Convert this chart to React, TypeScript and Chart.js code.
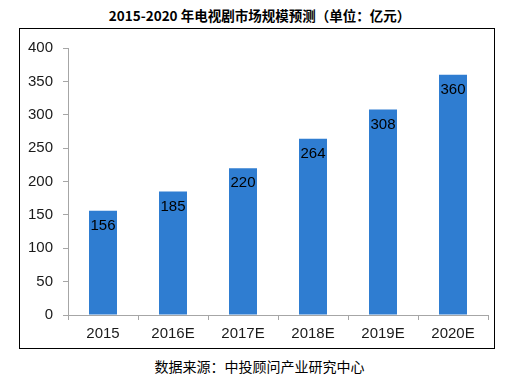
import React, { useEffect, useRef } from "react";
import { Chart, registerables } from "chart.js";

Chart.register(...registerables);

const titleText = "2015-2020 年电视剧市场规模预测（单位：亿元）";
const sourceText = "数据来源：中投顾问产业研究中心";
const categories = ["2015", "2016E", "2017E", "2018E", "2019E", "2020E"];
const marketSize = [156, 185, 220, 264, 308, 360];
const yMin = 0;
const yMax = 400;
const yStep = 50;

const barColor = "#2F7DD1";
const axisColor = "#A6A6A6";
const textColor = "#1a1a1a";
const fontFamily = "'Liberation Sans', Arial, sans-serif";

const valueLabels = {
  id: "valueLabels",
  afterDatasetsDraw(chart: any) {
    const ctx = chart.ctx;
    const meta = chart.getDatasetMeta(0);
    ctx.save();
    ctx.font = `15px ${fontFamily}`;
    ctx.fillStyle = "#000";
    ctx.textAlign = "center";
    ctx.textBaseline = "middle";
    meta.data.forEach((bar: any, i: number) => {
      ctx.fillText(String(chart.data.datasets[0].data[i]), bar.x, bar.y + 15);
    });
    ctx.restore();
  },
};

export default function App() {
  const ref = useRef<HTMLCanvasElement>(null);
  useEffect(() => {
    document.body.style.margin = "0";
    const chart = new Chart(ref.current!, {
      type: "bar",
      data: {
        labels: categories,
        datasets: [
          {
            data: marketSize,
            backgroundColor: barColor,
            borderWidth: 0,
            barPercentage: 0.8,
            categoryPercentage: 0.5,
          },
        ],
      },
      options: {
        animation: false,
        responsive: false,
        maintainAspectRatio: false,
        layout: { padding: { top: 16, right: 6, left: 0, bottom: 0 } },
        plugins: { legend: { display: false }, tooltip: { enabled: false } },
        scales: {
          x: {
            afterFit: (s: any) => {
              s.height = 33;
            },
            grid: {
              display: true,
              drawOnChartArea: false,
              drawTicks: true,
              tickLength: 5,
              color: axisColor,
              offset: true,
            },
            border: { display: true, color: axisColor, width: 1 },
            ticks: {
              color: textColor,
              font: { family: fontFamily, size: 15 },
              padding: 5,
            },
          },
          y: {
            min: yMin,
            max: yMax,
            afterFit: (s: any) => {
              s.width = 48;
            },
            grid: {
              display: true,
              drawOnChartArea: false,
              drawTicks: true,
              tickLength: 5,
              color: axisColor,
            },
            border: { display: true, color: axisColor, width: 1 },
            ticks: {
              stepSize: yStep,
              color: textColor,
              font: { family: fontFamily, size: 15 },
              padding: 10,
            },
          },
        },
      },
      plugins: [valueLabels],
    });
    return () => chart.destroy();
  }, []);

  return (
    <div style={{ position: "relative", width: 519, height: 385, background: "#fff", overflow: "hidden" }}>
      <div
        style={{
          position: "absolute",
          left: 0,
          top: 5,
          width: 519,
          textAlign: "center",
          fontFamily: "'Noto Sans CJK SC', sans-serif",
          fontWeight: "bold",
          fontSize: 13.5,
          lineHeight: "20px",
          color: "#000",
        }}
      >
        {titleText}
      </div>
      <div
        style={{
          position: "absolute",
          left: 19,
          top: 28,
          width: 476,
          height: 321,
          boxSizing: "border-box",
          border: "1px solid #000",
        }}
      >
        <canvas ref={ref} width={474} height={319} style={{ display: "block" }} />
      </div>
      <div
        style={{
          position: "absolute",
          left: 0,
          top: 356,
          width: 519,
          textAlign: "center",
          fontFamily: "'Noto Sans CJK SC', sans-serif",
          fontSize: 14,
          lineHeight: "20px",
          color: "#000",
        }}
      >
        {sourceText}
      </div>
    </div>
  );
}
